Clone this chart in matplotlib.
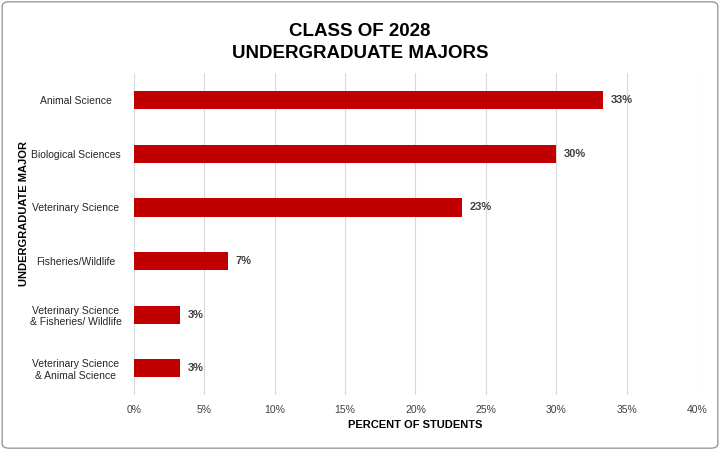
import matplotlib.pyplot as plt
from matplotlib.patches import FancyBboxPatch

categories = ["Animal Science", "Biological Sciences", "Veterinary Science",
              "Fisheries/Wildlife", "Veterinary Science\n& Fisheries/ Wildlife",
              "Veterinary Science\n& Animal Science"]
values = [33.3, 30.0, 23.3, 6.7, 3.3, 3.3]
labels = ["33%", "30%", "23%", "7%", "3%", "3%"]
xticks = [0, 5, 10, 15, 20, 25, 30, 35, 40]

plt.rcParams['font.family'] = ['Liberation Sans', 'DejaVu Sans']

fig = plt.figure(figsize=(7.2, 4.5), dpi=100)
fig.patches.append(FancyBboxPatch((0.003, 0.004), 0.994, 0.992,
                                  boxstyle="round,pad=0,rounding_size=0.01",
                                  transform=fig.transFigure, fill=False,
                                  edgecolor="#9a9a9a", linewidth=1))
ax = fig.add_axes([0.186, 0.122, 0.782, 0.715])

y = list(range(len(categories)))
ax.barh(y, values, height=0.34, color="#C00000", zorder=3)
for yi, v, lab in zip(y, values, labels):
    ax.text(v + 0.55, yi, lab, va="center", ha="left", fontsize=8,
            fontweight="bold", color="#404040")

ax.set_ylim(len(categories) - 0.5, -0.5)
ax.set_xlim(0, 40)
ax.set_yticks(y)
ax.set_yticklabels(categories, fontsize=7.5, color="#262626", ha="center")
ax.tick_params(axis="y", length=0, pad=42)
ax.set_xticks(xticks)
ax.set_xticklabels([f"{t}%" for t in xticks], fontsize=7.5, color="#404040")
ax.tick_params(axis="x", length=0, pad=7)
ax.grid(axis="x", color="#d9d9d9", linewidth=0.8, zorder=0)
for s in ax.spines.values():
    s.set_visible(False)

ax.set_xlabel("PERCENT OF STUDENTS", fontsize=8, fontweight="bold", color="#000000")
fig.text(0.033, 0.525, "UNDERGRADUATE MAJOR", rotation=90, ha="center", va="center",
         fontsize=8, fontweight="bold", color="#000000")
fig.text(0.5, 0.905, "CLASS OF 2028\nUNDERGRADUATE MAJORS", ha="center", va="center",
         fontsize=13.5, fontweight="bold", linespacing=1.35)

fig.savefig("out.png", dpi=100)
